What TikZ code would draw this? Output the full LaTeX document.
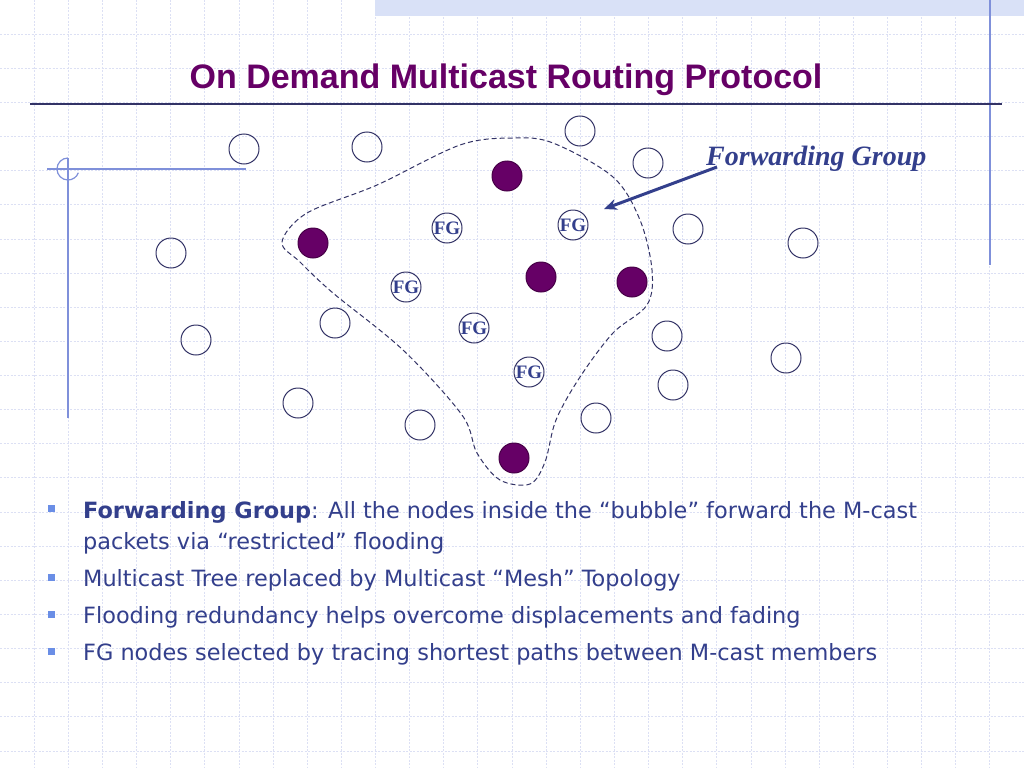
\documentclass[tikz,border=0pt]{standalone}
\usepackage{fontspec}
\setmainfont{Liberation Serif}
\newfontfamily\titlefont{Liberation Sans}
\newfontfamily\bodyfont{DejaVu Sans}
\usetikzlibrary{arrows.meta}
\definecolor{gridc}{HTML}{DCE0F4}
\definecolor{bandc}{HTML}{D9E1F7}
\definecolor{rulec}{HTML}{7F90DA}
\definecolor{navy}{HTML}{333366}
\definecolor{textc}{HTML}{333F8C}
\definecolor{purplec}{HTML}{660066}
\definecolor{bulletc}{HTML}{6A8EE6}

\begin{document}
\begin{tikzpicture}[x=1pt,y=-1pt,
    gridline/.style={gridc,line width=.8pt,dash pattern=on 2pt off 1.5pt},
    host/.style={circle,draw=navy,line width=1pt,minimum size=30pt,inner sep=0pt},
    member/.style={host,fill=purplec,draw=purplec!70!black},
    fgnode/.style={host,text=textc,font=\bfseries\fontsize{19}{19}\selectfont},
    bulletbox/.style={fill=bulletc,minimum size=7pt,inner sep=0pt},
    bodytext/.style={anchor=base west,inner sep=0pt,text=textc,
      font=\bodyfont\fontsize{22.4}{31}\selectfont}]
  \useasboundingbox (0,0) rectangle (1024,768);
  \fill [white] (0,0) rectangle (1024,768);
  \foreach \i in {1,...,29}
    \draw [gridline] (\i*34.133,0) -- (\i*34.133,768);
  \foreach \j in {1,...,22}
    \draw [gridline] (0,\j*34.133) -- (1024,\j*34.133);
  \fill [bandc] (375,0) rectangle (1024,16);
  \draw [rulec, line width=1.2pt] (990,0) -- (990,265);
  \draw [rulec, line width=1.2pt] (47,169) -- (246,169);
  \draw [rulec, line width=1.2pt] (68,158) -- (68,418);
  \draw [rulec, line width=1.2pt] (68,158) arc (270:20:11);
  \draw [navy, line width=1.5pt] (30,104) -- (1002,104);
  \node [anchor=base, text=purplec, font=\titlefont\bfseries\fontsize{34}{34}\selectfont]
    (title) at (506,88) {On Demand Multicast Routing Protocol};

  \draw [navy, line width=1pt, dash pattern=on 5pt off 3pt] plot [smooth cycle, tension=.55] coordinates {
    (282,242) (307,213) (377,185) (460,145) (513,138) (553,143) (613,177)
    (640,220) (652,270) (647,305) (613,333) (580,377) (556,420) (545,462)
    (530,484) (500,480) (477,453) (462,415) (403,350) (333,293) (300,262)};

  \foreach \n/\x/\y in {1/244/149, 2/367/147, 3/580/131, 4/648/163, 5/688/229,
      6/803/243, 7/171/253, 8/335/323, 9/196/340, 10/667/336, 11/786/358,
      12/673/385, 13/298/403, 14/420/425, 15/596/418}
    \node [host] (h\n) at (\x,\y) {};
  \foreach \n/\x/\y in {1/507/176, 2/313/243, 3/541/277, 4/632/282, 5/514/458}
    \node [member] (m\n) at (\x,\y) {};
  \foreach \n/\x/\y in {1/447/228, 2/573/225, 3/406/287, 4/474/328, 5/529/372}
    \node [fgnode] (fg\n) at (\x,\y) {FG};

  \node [anchor=base west, inner sep=0pt, text=textc,
    font=\bfseries\itshape\fontsize{28}{28}\selectfont] (fglabel) at (706,165) {Forwarding Group};
  \coordinate (fgtail) at (717,167);
  \coordinate (fgtip) at (604,209);
  \draw [textc, line width=3pt, -{Stealth[length=13pt,width=11pt]}] (fgtail) -- (fgtip);

  \foreach \j/\y in {1/508, 2/577, 3/614, 4/651}
    \node [bulletbox] (b\j) at (51,\y) {};
  \node [bodytext] (t1) at (83,518) {\textbf{Forwarding Group}: All the nodes inside the “bubble” forward the M-cast};
  \node [bodytext] (t1b) at (83,549) {packets via “restricted” flooding};
  \node [bodytext] (t2) at (83,586) {Multicast Tree replaced by Multicast “Mesh” Topology};
  \node [bodytext] (t3) at (83,623) {Flooding redundancy helps overcome displacements and fading};
  \node [bodytext] (t4) at (83,660) {FG nodes selected by tracing shortest paths between M-cast members};
\end{tikzpicture}
\end{document}
